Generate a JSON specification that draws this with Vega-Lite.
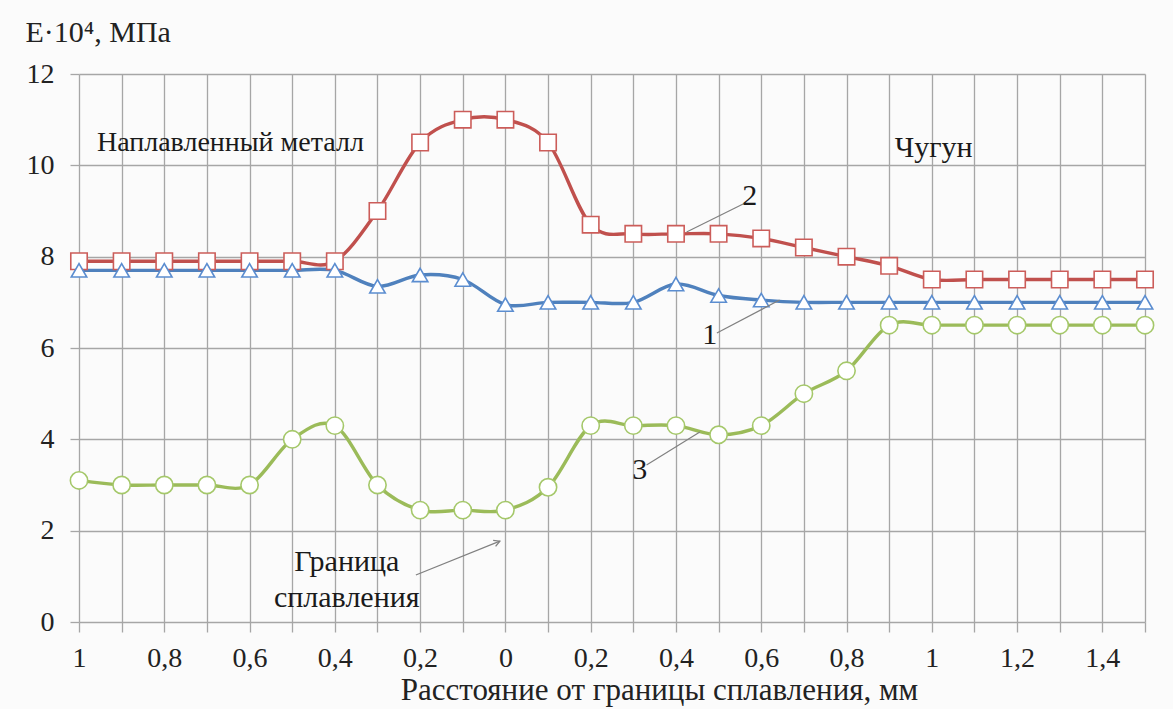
{
  "$schema": "https://vega.github.io/schema/vega-lite/v6.json",
  "width": 1066,
  "height": 548,
  "autosize": "none",
  "padding": {"left": 79, "top": 74, "right": 28, "bottom": 87},
  "background": "#fbfbfb",
  "config": {
    "font": "Liberation Serif",
    "view": {"stroke": null},
    "axis": {"gridColor": "#a6a6a6", "gridWidth": 1.3, "tickColor": "#a6a6a6", "tickWidth": 1.3, "labelColor": "#222222", "titleColor": "#222222", "labelFont": "Liberation Serif", "titleFont": "Liberation Serif", "titleFontWeight": "normal"}
  },
  "datasets": {
    "curves": [
      {"d": -1.0, "E": 7.9, "curve": "2"}, {"d": -0.9, "E": 7.9, "curve": "2"}, {"d": -0.8, "E": 7.9, "curve": "2"}, {"d": -0.7, "E": 7.9, "curve": "2"}, {"d": -0.6, "E": 7.9, "curve": "2"}, {"d": -0.5, "E": 7.9, "curve": "2"}, {"d": -0.4, "E": 7.9, "curve": "2"}, {"d": -0.3, "E": 9.0, "curve": "2"}, {"d": -0.2, "E": 10.5, "curve": "2"}, {"d": -0.1, "E": 11.0, "curve": "2"}, {"d": 0.0, "E": 11.0, "curve": "2"}, {"d": 0.1, "E": 10.5, "curve": "2"}, {"d": 0.2, "E": 8.7, "curve": "2"}, {"d": 0.3, "E": 8.5, "curve": "2"}, {"d": 0.4, "E": 8.5, "curve": "2"}, {"d": 0.5, "E": 8.5, "curve": "2"}, {"d": 0.6, "E": 8.4, "curve": "2"}, {"d": 0.7, "E": 8.2, "curve": "2"}, {"d": 0.8, "E": 8.0, "curve": "2"}, {"d": 0.9, "E": 7.8, "curve": "2"}, {"d": 1.0, "E": 7.5, "curve": "2"}, {"d": 1.1, "E": 7.5, "curve": "2"}, {"d": 1.2, "E": 7.5, "curve": "2"}, {"d": 1.3, "E": 7.5, "curve": "2"}, {"d": 1.4, "E": 7.5, "curve": "2"}, {"d": 1.5, "E": 7.5, "curve": "2"},
      {"d": -1.0, "E": 7.7, "curve": "1"}, {"d": -0.9, "E": 7.7, "curve": "1"}, {"d": -0.8, "E": 7.7, "curve": "1"}, {"d": -0.7, "E": 7.7, "curve": "1"}, {"d": -0.6, "E": 7.7, "curve": "1"}, {"d": -0.5, "E": 7.7, "curve": "1"}, {"d": -0.4, "E": 7.7, "curve": "1"}, {"d": -0.3, "E": 7.35, "curve": "1"}, {"d": -0.2, "E": 7.6, "curve": "1"}, {"d": -0.1, "E": 7.5, "curve": "1"}, {"d": 0.0, "E": 6.95, "curve": "1"}, {"d": 0.1, "E": 7.0, "curve": "1"}, {"d": 0.2, "E": 7.0, "curve": "1"}, {"d": 0.3, "E": 7.0, "curve": "1"}, {"d": 0.4, "E": 7.4, "curve": "1"}, {"d": 0.5, "E": 7.15, "curve": "1"}, {"d": 0.6, "E": 7.05, "curve": "1"}, {"d": 0.7, "E": 7.0, "curve": "1"}, {"d": 0.8, "E": 7.0, "curve": "1"}, {"d": 0.9, "E": 7.0, "curve": "1"}, {"d": 1.0, "E": 7.0, "curve": "1"}, {"d": 1.1, "E": 7.0, "curve": "1"}, {"d": 1.2, "E": 7.0, "curve": "1"}, {"d": 1.3, "E": 7.0, "curve": "1"}, {"d": 1.4, "E": 7.0, "curve": "1"}, {"d": 1.5, "E": 7.0, "curve": "1"},
      {"d": -1.0, "E": 3.1, "curve": "3"}, {"d": -0.9, "E": 3.0, "curve": "3"}, {"d": -0.8, "E": 3.0, "curve": "3"}, {"d": -0.7, "E": 3.0, "curve": "3"}, {"d": -0.6, "E": 3.0, "curve": "3"}, {"d": -0.5, "E": 4.0, "curve": "3"}, {"d": -0.4, "E": 4.3, "curve": "3"}, {"d": -0.3, "E": 3.0, "curve": "3"}, {"d": -0.2, "E": 2.45, "curve": "3"}, {"d": -0.1, "E": 2.45, "curve": "3"}, {"d": 0.0, "E": 2.45, "curve": "3"}, {"d": 0.1, "E": 2.95, "curve": "3"}, {"d": 0.2, "E": 4.3, "curve": "3"}, {"d": 0.3, "E": 4.3, "curve": "3"}, {"d": 0.4, "E": 4.3, "curve": "3"}, {"d": 0.5, "E": 4.1, "curve": "3"}, {"d": 0.6, "E": 4.3, "curve": "3"}, {"d": 0.7, "E": 5.0, "curve": "3"}, {"d": 0.8, "E": 5.5, "curve": "3"}, {"d": 0.9, "E": 6.5, "curve": "3"}, {"d": 1.0, "E": 6.5, "curve": "3"}, {"d": 1.1, "E": 6.5, "curve": "3"}, {"d": 1.2, "E": 6.5, "curve": "3"}, {"d": 1.3, "E": 6.5, "curve": "3"}, {"d": 1.4, "E": 6.5, "curve": "3"}, {"d": 1.5, "E": 6.5, "curve": "3"}
    ],
    "leaders": [
      {"x1": 0.561, "y1": 9.17, "x2": 0.425, "y2": 8.54},
      {"x1": 0.496, "y1": 6.33, "x2": 0.643, "y2": 7.05},
      {"x1": 0.331, "y1": 3.44, "x2": 0.456, "y2": 4.16},
      {"x1": -0.21, "y1": 1.03, "x2": -0.013, "y2": 1.77}
    ],
    "arrowheads": [
      {"x": -0.013, "y": 1.77}
    ],
    "smalllabels": [
      {"x": -0.958, "y": 10.49, "text": "Наплавленный металл"}
    ],
    "leftlabels": [
      {"x": 0.913, "y": 10.38, "text": "Чугун"}
    ],
    "centerlabels": [
      {"x": 0.573, "y": 9.33, "text": "2"},
      {"x": 0.479, "y": 6.28, "text": "1"},
      {"x": 0.315, "y": 3.33, "text": "3"},
      {"x": -0.372, "y": 1.31, "text": "Граница"},
      {"x": -0.372, "y": 0.53, "text": "сплавления"}
    ]
  },
  "layer": [
    {
      "data": {"name": "curves"},
      "mark": {"type": "line", "interpolate": "cardinal", "strokeWidth": 3.4},
      "encoding": {
        "x": {
          "field": "d", "type": "quantitative",
          "scale": {"domain": [-1, 1.5], "nice": false, "zero": false},
          "axis": {
            "values": [-1, -0.9, -0.8, -0.7, -0.6, -0.5, -0.4, -0.3, -0.2, -0.1, 0, 0.1, 0.2, 0.3, 0.4, 0.5, 0.6, 0.7, 0.8, 0.9, 1, 1.1, 1.2, 1.3, 1.4, 1.5],
            "labelExpr": "abs(round(datum.value*10)) % 2 == 0 && round(datum.value*10) != 15 ? replace(format(abs(datum.value), '.1~f'), '.', ',') : ''",
            "grid": true, "domain": false, "tickSize": 10,
            "labelFontSize": 28, "labelPadding": 12, "labelBaseline": "top", "labelOverlap": false, "labelFlush": false,
            "title": "Расстояние от границы сплавления, мм",
            "titleFontSize": 31, "titleX": 580, "titleY": 77, "titleBaseline": "alphabetic", "titleAlign": "center"
          }
        },
        "y": {
          "field": "E", "type": "quantitative",
          "scale": {"domain": [0, 12], "nice": false},
          "axis": {
            "values": [0, 2, 4, 6, 8, 10, 12],
            "grid": true, "domain": false, "tickSize": 9,
            "labelFontSize": 28, "labelPadding": 16,
            "title": "E·10⁴, МПа",
            "titleFontSize": 30, "titleAngle": 0, "titleAlign": "left", "titleBaseline": "middle", "titleX": -54, "titleY": -42
          }
        },
        "color": {"field": "curve", "type": "nominal", "scale": {"domain": ["1", "2", "3"], "range": ["#4f81bd", "#c0504d", "#9bbb59"]}, "legend": null}
      }
    },
    {
      "data": {"name": "curves"},
      "mark": {"type": "point", "filled": true, "fill": "white", "strokeWidth": 1.6, "opacity": 1},
      "encoding": {
        "x": {"field": "d", "type": "quantitative"},
        "y": {"field": "E", "type": "quantitative"},
        "stroke": {"field": "curve", "type": "nominal", "scale": {"domain": ["1", "2", "3"], "range": ["#5b8dd0", "#cc5d5a", "#a5c86a"]}, "legend": null},
        "shape": {"field": "curve", "type": "nominal", "scale": {"domain": ["1", "2", "3"], "range": ["triangle-up", "square", "circle"]}, "legend": null},
        "size": {"field": "curve", "type": "nominal", "scale": {"domain": ["1", "2", "3"], "range": [240, 300, 200]}, "legend": null}
      }
    },
    {
      "data": {"name": "leaders"},
      "mark": {"type": "rule", "color": "#808080", "strokeWidth": 1.2},
      "encoding": {
        "x": {"field": "x1", "type": "quantitative"},
        "y": {"field": "y1", "type": "quantitative"},
        "x2": {"field": "x2"},
        "y2": {"field": "y2"}
      }
    },
    {
      "data": {"name": "arrowheads"},
      "mark": {"type": "point", "shape": "M-1,-0.55L0,0L-1,0.55", "filled": false, "stroke": "#808080", "strokeWidth": 1.3, "size": 140, "angle": 338, "opacity": 1},
      "encoding": {
        "x": {"field": "x", "type": "quantitative"},
        "y": {"field": "y", "type": "quantitative"}
      }
    },
    {
      "data": {"name": "smalllabels"},
      "mark": {"type": "text", "fontSize": 28, "baseline": "middle", "align": "left", "color": "#1a1a1a", "font": "Liberation Serif"},
      "encoding": {
        "x": {"field": "x", "type": "quantitative"},
        "y": {"field": "y", "type": "quantitative"},
        "text": {"field": "text"}
      }
    },
    {
      "data": {"name": "leftlabels"},
      "mark": {"type": "text", "fontSize": 30, "baseline": "middle", "align": "left", "color": "#1a1a1a", "font": "Liberation Serif"},
      "encoding": {
        "x": {"field": "x", "type": "quantitative"},
        "y": {"field": "y", "type": "quantitative"},
        "text": {"field": "text"}
      }
    },
    {
      "data": {"name": "centerlabels"},
      "mark": {"type": "text", "fontSize": 30, "baseline": "middle", "align": "center", "color": "#1a1a1a", "font": "Liberation Serif"},
      "encoding": {
        "x": {"field": "x", "type": "quantitative"},
        "y": {"field": "y", "type": "quantitative"},
        "text": {"field": "text"}
      }
    }
  ]
}
